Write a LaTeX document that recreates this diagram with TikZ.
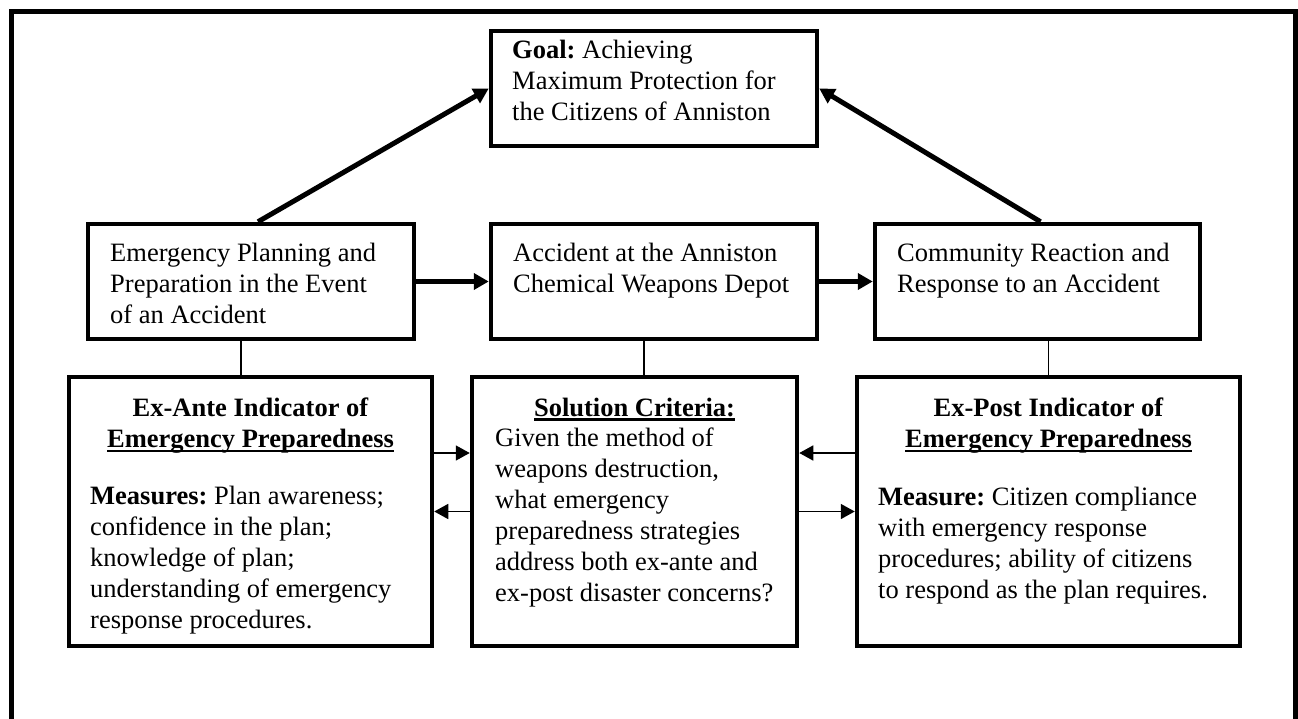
\documentclass[tikz,border=0pt]{standalone}
\usepackage{fontspec}
\setmainfont{Liberation Serif}
\usetikzlibrary{arrows.meta}
\frenchspacing
\newcommand\wul[1]{\setbox0\hbox{#1}\rlap{\rule[-4.8pt]{\wd0}{2.6pt}}\box0}
\begin{document}
\begin{tikzpicture}[x=1pt,y=-1pt,
  every node/.style={font=\fontsize{26.5pt}{31pt}\selectfont\frenchspacing},
  box/.style={draw,line width=4.5pt,minimum width=#1,minimum height=115pt,inner sep=0pt},
  bbox/.style={box=#1,minimum height=269pt},
  txt/.style={inner sep=0pt,anchor=north west,align=left},
  ttl/.style={inner sep=0pt,anchor=north,align=center,font=\fontsize{26.5pt}{31pt}\selectfont\bfseries},
  bigarrow/.style={line width=5pt,-{Triangle[length=15pt,width=16pt]}},
  smallarrow/.style={line width=1.6pt,-{Triangle[length=14pt,width=15pt]}},
  link/.style={line width=1.6pt},
  frame/.style={line width=5pt,line join=miter}]
\useasboundingbox (0,0) rectangle (1298,719);
\draw[frame] (11,730) -- (11,12) -- (1295,12) -- (1295,730);

% boxes
\node[box=326pt] (goal) at (654,88.5) {};
\node[box=326pt] (ml) at (251,281.5) {};
\node[box=326pt] (mc) at (654,281.5) {};
\node[box=325pt] (mr) at (1037.5,281.5) {};
\node[bbox=363pt] (bl) at (250.5,511.5) {};
\node[bbox=325pt] (bc) at (634.5,511.5) {};
\node[bbox=383pt] (br) at (1048.5,511.5) {};

% texts
\node[txt] (goalt) at (512,39.5) {\textbf{Goal:} Achieving\\Maximum Protection for\\the Citizens of Anniston};
\node[txt] (mlt) at (110,242.5) {Emergency Planning and\\Preparation in the Event\\of an Accident};
\node[txt] (mct) at (513,243) {Accident at the Anniston\\Chemical Weapons Depot};
\node[txt] (mrt) at (897,243) {Community Reaction and\\Response to an Accident};

\node[ttl] (blh) at (250.5,397.5) {Ex-Ante Indicator of\\\wul{Emergency Preparedness}};
\node[txt] (blt) at (90,486) {\textbf{Measures:} Plan awareness;\\confidence in the plan;\\knowledge of plan;\\understanding of emergency\\response procedures.};
\node[ttl] (bch) at (634.5,397.5) {\wul{Solution Criteria:}};
\node[txt] (bct) at (495,428) {Given the method of\\weapons destruction,\\what emergency\\preparedness strategies\\address both ex-ante and\\ex-post disaster concerns?};
\node[ttl] (brh) at (1048.5,397.5) {Ex-Post Indicator of\\\wul{Emergency Preparedness}};
\node[txt] (brt) at (878,487) {\textbf{Measure:} Citizen compliance\\with emergency response\\procedures; ability of citizens\\to respond as the plan requires.};

% connectors
\draw[bigarrow] ([xshift=7pt]ml.north) -- (goal.west);
\draw[bigarrow] ([xshift=3pt]mr.north) -- (goal.east);
\draw[bigarrow] (ml.east) -- (mc.west);
\draw[bigarrow] (mc.east) -- (mr.west);

\draw[link] ([xshift=-10pt]ml.south) -- ([xshift=-10pt]ml.south |- bl.north);
\draw[link] ([xshift=-10pt]mc.south) -- ([xshift=-10pt]mc.south |- bc.north);
\draw[link] (mr.south -| br.north) -- (br.north);

\draw[smallarrow] ([yshift=58.5pt]bl.east) -- ([yshift=58.5pt]bc.west);
\draw[smallarrow] (bc.west) -- (bl.east);
\draw[smallarrow] ([yshift=58.5pt]br.west) -- ([yshift=58.5pt]bc.east);
\draw[smallarrow] (bc.east) -- (br.west);
\end{tikzpicture}
\end{document}
